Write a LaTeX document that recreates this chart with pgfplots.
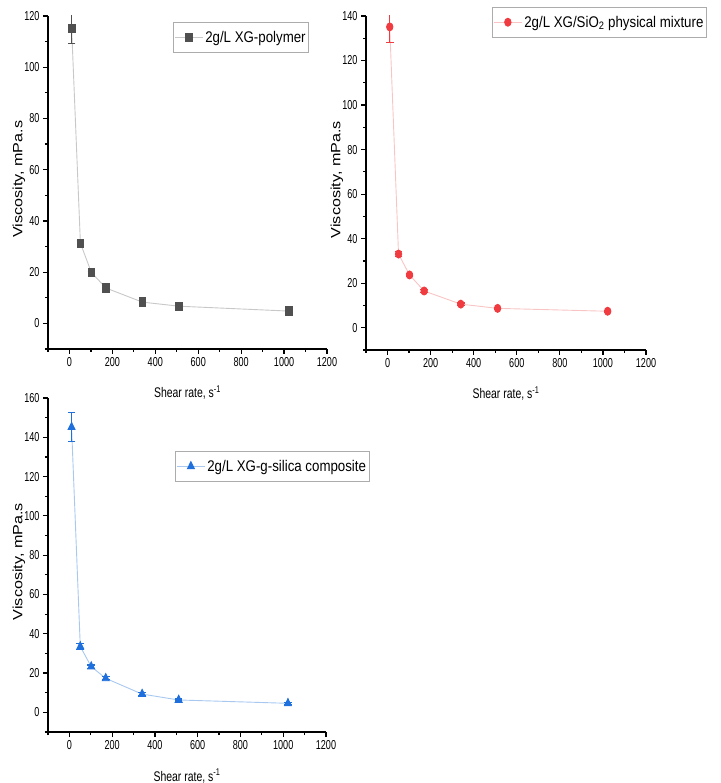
\documentclass[border=0pt]{standalone}
\usepackage{fontspec}
\setmainfont{Liberation Sans}
\newfontfamily\tickfont[FakeStretch=0.7]{Liberation Sans}
\newfontfamily\xlabfont[FakeStretch=0.75]{Liberation Sans}
\newfontfamily\legfont[FakeStretch=0.86]{Liberation Sans}
\newfontfamily\ylabfont[FakeStretch=1.2]{Liberation Sans}
\usepackage{pgfplots}
\pgfplotsset{compat=1.18}

\definecolor{gmark}{HTML}{505050}
\definecolor{gline}{HTML}{C8C8C8}
\definecolor{rmark}{HTML}{F03C40}
\definecolor{rline}{HTML}{F8C4C4}
\definecolor{bmark}{HTML}{1F6FDC}
\definecolor{bline}{HTML}{A8C8F0}

\pgfplotsset{
  panel/.style={
    scale only axis,
    anchor=south west,
    axis x line*=bottom,
    axis y line*=left,
    axis line style={line width=1.4bp},
    tick align=outside,
    major tick length=5bp,
    minor tick length=3bp,
    every tick/.style={black, line width=1.2bp},
    xmin=-100, xmax=1200,
    xtick={0,200,...,1200},
    minor xtick={-100,100,...,1100},
    ymin=-10,
    tick label style={font=\tickfont\fontsize{13}{15}\selectfont},
    /pgf/number format/assume math mode=true,
    /pgf/number format/1000 sep={},
    xlabel={Shear rate, s\textsuperscript{-1}},
    ylabel={Viscosity, mPa.s},
    xlabel style={font=\xlabfont\fontsize{14}{16}\selectfont,
      at={(axis description cs:0.5,0)}, anchor=base, yshift=-49bp},
    ylabel style={font=\ylabfont\fontsize{13.5}{16}\selectfont,
      at={([xshift=-29bp]axis description cs:0,0.51)}, anchor=center},
    legend style={draw=gray!65, line width=0.8bp, anchor=north west,
      font=\legfont\fontsize{15.5}{18}\selectfont,
      inner xsep=1bp, inner ysep=6.5bp},
    legend cell align=left,
    legend image code/.code={
      \draw[mark repeat=2, mark phase=2, #1]
        plot coordinates {(0bp,0bp) (14bp,0bp) (28bp,0bp)};
    },
  },
  ebars/.style={
    error bars/y dir=both,
    error bars/y explicit,
    error bars/error bar style={#1, line width=1.1bp},
    error bars/error mark options={#1, line width=1.1bp, mark size=3.8bp, rotate=90},
  },
}

\begin{document}
\begin{tikzpicture}
\useasboundingbox (0bp,0bp) rectangle (721bp,783bp);

% panel 1: XG polymer
\begin{axis}[panel, at={(48bp,434bp)}, width=279bp, height=333bp,
  ymax=120, ytick={0,20,...,120}, minor ytick={-10,10,...,110},
  legend style={at={(axis description cs:0.448,0.982)}}]
\addplot[gline, line width=0.9bp, mark=square*,
  mark options={gmark, fill=gmark, xscale=0.8, mark size=4.2bp},
  ebars=gmark]
  table[x=x, y=y, y error=e] {
  x     y     e
  10.2  115.2 5.8
  51    31.3  1.0
  102   19.9  0.5
  170   13.8  0.5
  340   8.3   0.5
  511   6.7   0.4
  1022  4.8   0.4
};
\addlegendimage{gmark, line width=1bp, mark=square*,
  mark options={fill=gmark, xscale=0.8, mark size=3.5bp}}
\addlegendentry{2g/L XG-polymer}
\end{axis}

% panel 2: physical mixture
\begin{axis}[panel, at={(366bp,433bp)}, width=280bp, height=334bp,
  ymax=140, ytick={0,20,...,140}, minor ytick={-10,10,...,130},
  legend style={at={(axis description cs:0.45,1.027)}}]
\addplot[rline, line width=0.9bp, mark=*,
  mark options={rmark, fill=rmark, xscale=0.8, mark size=4bp},
  ebars=rmark]
  table[x=x, y=y, y error=e] {
  x     y     e
  10.2  135.1 6.9
  51    33.1  1.2
  102   23.7  0.6
  170   16.5  0.5
  340   10.6  0.5
  511   8.7   0.4
  1022  7.4   0.4
};
\addlegendimage{rmark, line width=1bp, mark=*,
  mark options={fill=rmark, xscale=0.8, mark size=3.4bp}}
\addlegendentry{2g/L XG/SiO\textsubscript{2} physical mixture}
\end{axis}

% panel 3: grafted composite
\begin{axis}[panel, at={(48bp,51bp)}, width=278bp, height=334bp,
  ymax=160, ytick={0,20,...,160}, minor ytick={-10,10,...,150},
  legend style={at={(axis description cs:0.457,0.841)}}]
\addplot[bline, line width=0.9bp, mark=triangle*,
  mark options={bmark, fill=bmark, xscale=0.85, mark size=4.7bp},
  ebars=bmark]
  table[x=x, y=y, y error=e] {
  x     y     e
  10.2  145.2 7.2
  51    33.5  1.5
  102   23.3  0.8
  170   17.3  0.8
  340   9.3   0.6
  511   6.3   0.5
  1022  4.6   0.5
};
\addlegendimage{bmark, line width=1bp, mark=triangle*,
  mark options={fill=bmark, xscale=0.85, mark size=4bp}}
\addlegendentry{2g/L XG-g-silica composite}
\end{axis}
\end{tikzpicture}
\end{document}
